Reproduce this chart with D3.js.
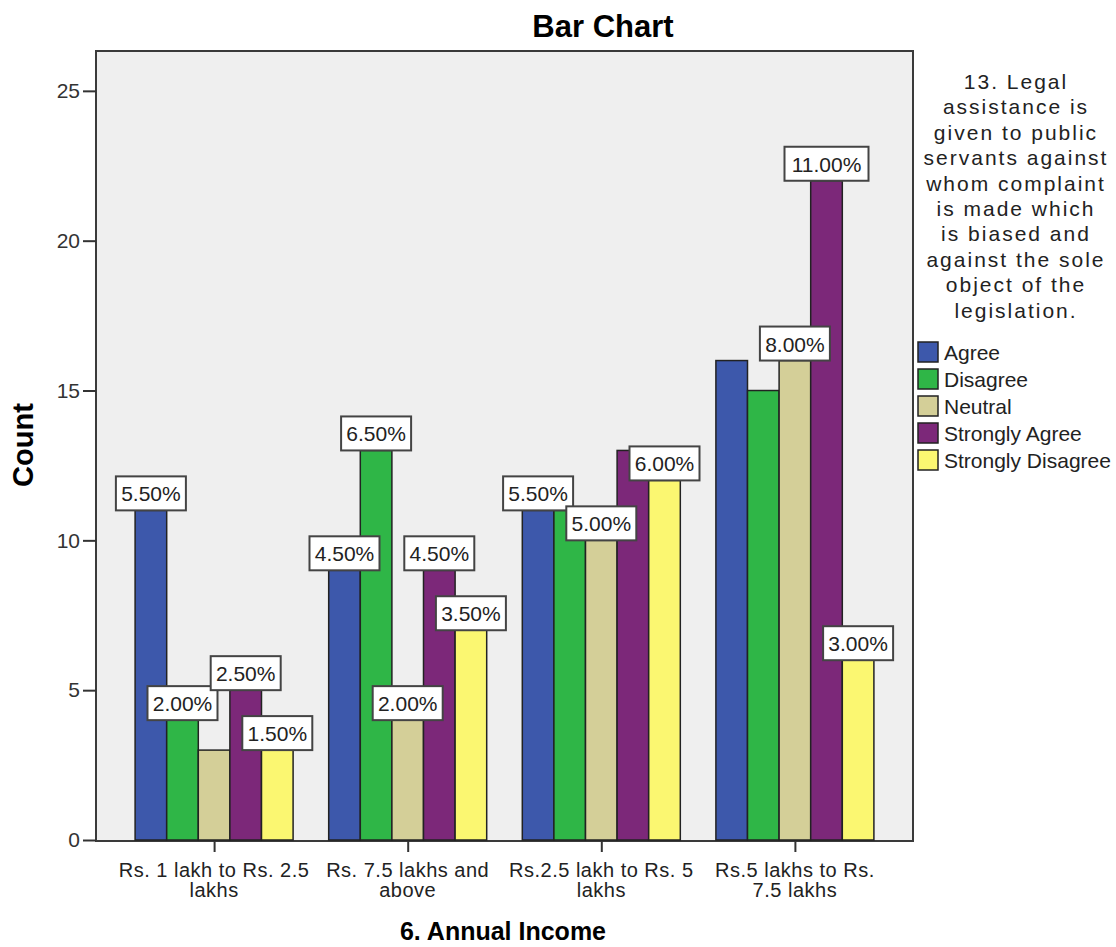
<!DOCTYPE html>
<html>
<head>
<meta charset="utf-8">
<script src="https://cdn.jsdelivr.net/npm/d3@7"></script>
<style>
  body { margin: 0; background: #fff; }
  text { font-family: "Liberation Sans", Arial, sans-serif; }
</style>
</head>
<body>
<div id="chart"></div>
<script>
// categories on the x axis
var incomes = ["Rs. 1 lakh to Rs. 2.5 lakhs", "Rs. 7.5 lakhs and above", "Rs.2.5 lakh to Rs. 5 lakhs", "Rs.5 lakhs to Rs. 7.5 lakhs"];
var incomeLines = [["Rs. 1 lakh to Rs. 2.5", "lakhs"], ["Rs. 7.5 lakhs and", "above"], ["Rs.2.5 lakh to Rs. 5", "lakhs"], ["Rs.5 lakhs to Rs.", "7.5 lakhs"]];
var responses = ["Agree", "Disagree", "Neutral", "Strongly Agree", "Strongly Disagree"];
var colors = ["#3d58ab", "#2fb647", "#d4cf98", "#7c2879", "#fbf771"];

// counts per income group, in response order
var agree    = [11, 9, 11, 16];
var disagree = [4, 13, 11, 15];
var neutral  = [3, 4, 10, 16];
var sAgree   = [5, 9, 13, 22];
var sDisagree= [3, 7, 12, 6];
var total = 200;

// which percent labels SPSS drew (others hidden by overlap)
var shownLabels = [
  [1, 1, 0, 1, 1],
  [1, 1, 1, 1, 1],
  [1, 0, 1, 0, 1],
  [0, 0, 1, 1, 1]
];

var yTicks = [0, 5, 10, 15, 20, 25];
var legendTitle = ["13. Legal", "assistance is", "given to public", "servants against", "whom complaint", "is made which", "is biased and", "against the sole", "object of the", "legislation."];

var series = [agree, disagree, neutral, sAgree, sDisagree];
var data = [];
incomes.forEach(function(inc, i) {
  responses.forEach(function(r, j) {
    data.push({income: inc, ci: i, response: r, si: j, count: series[j][i], show: shownLabels[i][j]});
  });
});

var W = 1116, H = 947;
var plot = {left: 96, right: 913, top: 51, bottom: 841};

var svg = d3.select("#chart").append("svg")
  .attr("width", W)
  .attr("height", H);

var x0 = d3.scalePoint().domain(incomes).range([plot.left, plot.right]).padding(0.61);
var x1 = d3.scaleBand().domain(responses).range([-79, 79]);
var y = d3.scaleLinear().domain([0, 26.33]).range([plot.bottom - 1, plot.top]);

// plot background
svg.append("rect")
  .attr("x", plot.left).attr("y", plot.top)
  .attr("width", plot.right - plot.left).attr("height", plot.bottom - plot.top)
  .attr("fill", "#efefef")
  .attr("stroke", "#3a3a3a").attr("stroke-width", 2);

// bars
svg.append("g").selectAll("rect")
  .data(data)
  .enter().append("rect")
    .attr("x", function(d) { return x0(d.income) + x1(d.response); })
    .attr("y", function(d) { return y(d.count); })
    .attr("width", x1.bandwidth())
    .attr("height", function(d) { return y(0) - y(d.count); })
    .attr("fill", function(d) { return colors[d.si]; })
    .attr("stroke", "#222").attr("stroke-width", 1.5);

// percent labels
var labels = svg.append("g").selectAll("g")
  .data(data.filter(function(d) { return d.show; }))
  .enter().append("g")
    .attr("transform", function(d) {
      return "translate(" + (x0(d.income) + x1(d.response) + x1.bandwidth() / 2) + "," + y(d.count) + ")";
    });
labels.append("rect")
  .attr("x", function(d) { return d.count / total * 100 >= 10 ? -42 : -35; })
  .attr("y", -34)
  .attr("width", function(d) { return d.count / total * 100 >= 10 ? 84 : 70; })
  .attr("height", 34)
  .attr("fill", "#fff")
  .attr("stroke", "#444").attr("stroke-width", 2);
labels.append("text")
  .attr("text-anchor", "middle")
  .attr("y", -9)
  .attr("font-size", "21px")
  .attr("fill", "#222")
  .text(function(d) { return (d.count / total * 100).toFixed(2) + "%"; });

// y axis
var yAxis = svg.append("g")
  .attr("transform", "translate(" + plot.left + ",0)")
  .call(d3.axisLeft(y).tickValues(yTicks).tickSize(13).tickPadding(3));
yAxis.select(".domain").remove();
yAxis.selectAll("line").attr("stroke", "#333").attr("stroke-width", 2);
yAxis.selectAll("text").attr("font-size", "21px").attr("fill", "#333")
  .attr("font-family", "Liberation Sans, Arial, sans-serif");

// x axis
var xAxis = svg.append("g")
  .attr("transform", "translate(0," + plot.bottom + ")")
  .call(d3.axisBottom(x0).tickSize(11).tickFormat(""));
xAxis.select(".domain").remove();
xAxis.selectAll("line").attr("stroke", "#333").attr("stroke-width", 2);

incomes.forEach(function(inc, i) {
  var t = svg.append("text")
    .attr("text-anchor", "middle")
    .attr("font-size", "20px")
    .attr("letter-spacing", "0.5px")
    .attr("fill", "#222");
  incomeLines[i].forEach(function(line, k) {
    t.append("tspan")
      .attr("x", x0(inc))
      .attr("y", 877 + k * 20)
      .text(line);
  });
});

// titles
svg.append("text")
  .attr("x", 603).attr("y", 37)
  .attr("text-anchor", "middle")
  .attr("font-size", "31px").attr("font-weight", "bold")
  .text("Bar Chart");

svg.append("text")
  .attr("transform", "translate(33,445) rotate(-90)")
  .attr("text-anchor", "middle")
  .attr("font-size", "29px").attr("font-weight", "bold")
  .text("Count");

svg.append("text")
  .attr("x", 503).attr("y", 940)
  .attr("text-anchor", "middle")
  .attr("font-size", "25px").attr("font-weight", "bold")
  .text("6. Annual Income");

// legend
var legend = svg.append("g");
legend.append("text")
  .attr("text-anchor", "middle")
  .attr("font-size", "21px").attr("fill", "#222")
  .attr("letter-spacing", "2px")
  .selectAll("tspan")
  .data(legendTitle)
  .enter().append("tspan")
    .attr("x", 1016)
    .attr("y", function(d, i) { return 89 + i * 25.4; })
    .text(function(d) { return d; });

var items = legend.selectAll("g.item")
  .data(responses)
  .enter().append("g")
    .attr("class", "item")
    .attr("transform", function(d, i) { return "translate(918," + (342 + i * 27) + ")"; });
items.append("rect")
  .attr("width", 20).attr("height", 20)
  .attr("fill", function(d, i) { return colors[i]; })
  .attr("stroke", "#222").attr("stroke-width", 1.5);
items.append("text")
  .attr("x", 26).attr("y", 18)
  .attr("font-size", "21px").attr("fill", "#222")
  .text(function(d) { return d; });
</script>
</body>
</html>
